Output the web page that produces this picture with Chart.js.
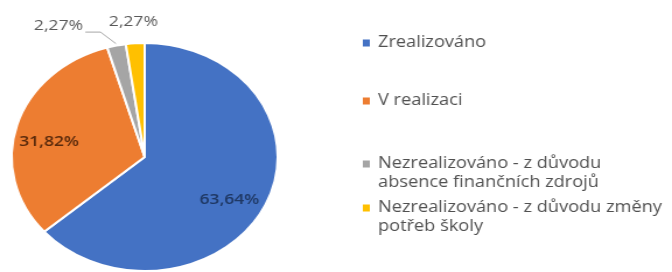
<!DOCTYPE html>
<html><head><meta charset="utf-8">
<script src="https://cdn.jsdelivr.net/npm/chart.js@4"></script>
<style>
html,body{margin:0;padding:0;background:#fff;overflow:hidden;width:672px;height:272px;}
#wrap{position:absolute;left:0;top:0;width:576px;height:272px;transform:scaleX(1.16667);transform-origin:0 0;}
</style></head><body>
<div id="wrap"><canvas id="c"></canvas></div>
<script>
// ---- data ----
const categories = [
  ['Zrealizováno'],
  ['V realizaci'],
  ['Nezrealizováno - z důvodu', 'absence finančních zdrojů'],
  ['Nezrealizováno - z důvodu změny', 'potřeb školy']
];
const shares = [63.64, 31.82, 2.27, 2.27];

// ---- styles ----
const sliceColors = ['#4472C4', '#ED7D31', '#A5A5A5', '#FFC000'];
const labelColors = ['#1F3864', '#5A2A0C', '#595959', '#595959'];
const FONT = "'Open Sans', sans-serif";

function fmt(v) { return v.toFixed(2).replace('.', ',') + '%'; }

const sliceLabels = {
  id: 'sliceLabels',
  afterDatasetsDraw(chart, args, opts) {
    const ctx = chart.ctx;
    const meta = chart.getDatasetMeta(0);
    ctx.save();
    ctx.textBaseline = 'middle';
    meta.data.forEach((arc, i) => {
      const p = arc.getProps(['x', 'y', 'startAngle', 'endAngle', 'outerRadius'], true);
      const mid = (p.startAngle + p.endAngle) / 2;
      const text = fmt(shares[i]);
      ctx.fillStyle = labelColors[i];
      if (opts.inside[i] != null) {
        ctx.font = '600 15px ' + FONT;
        const a = mid + opts.angleShift[i] * Math.PI / 180;
        const r = p.outerRadius * opts.inside[i];
        ctx.textAlign = 'center';
        ctx.fillText(text, p.x + Math.cos(a) * r, p.y + Math.sin(a) * r);
      } else {
        ctx.font = '15px ' + FONT;
        const r = p.outerRadius + opts.outsideGap;
        let lx = p.x + Math.cos(mid) * r;
        let ly = p.y + Math.sin(mid) * r;
        const sh = opts.shift[i];
        if (sh) {
          lx += sh[0]; ly += sh[1];
          const w = ctx.measureText(text).width;
          const ax = p.x + Math.cos(mid) * (p.outerRadius + 2);
          const ay = p.y + Math.sin(mid) * (p.outerRadius + 2);
          ctx.strokeStyle = '#A6A6A6';
          ctx.lineWidth = 1;
          ctx.beginPath();
          ctx.moveTo(lx + w / 2 + 2, ly + 6);
          ctx.lineTo(lx + w / 2 + 15, ly + 6);
          ctx.lineTo(ax, ay);
          ctx.stroke();
        }
        ctx.textAlign = 'center';
        ctx.fillText(text, lx, ly);
      }
    });
    ctx.restore();
  }
};

const sideLegend = {
  id: 'sideLegend',
  afterDraw(chart, args, opts) {
    const ctx = chart.ctx;
    ctx.save();
    ctx.font = opts.fontSize + 'px ' + FONT;
    ctx.textBaseline = 'middle';
    ctx.textAlign = 'left';
    categories.forEach((lines, i) => {
      const y0 = opts.tops[i];
      ctx.fillStyle = sliceColors[i];
      ctx.fillRect(opts.boxX, y0 - 3.5, 6, 7);
      ctx.fillStyle = '#505050';
      lines.forEach((ln, j) => ctx.fillText(ln, opts.textX, y0 + j * opts.lineHeight));
    });
    ctx.restore();
  }
};

new Chart(document.getElementById('c'), {
  type: 'pie',
  data: {
    labels: categories,
    datasets: [{
      data: shares,
      backgroundColor: sliceColors,
      borderColor: '#FFFFFF',
      borderWidth: 2
    }]
  },
  options: {
    responsive: true,
    maintainAspectRatio: false,
    animation: false,
    layout: { padding: { left: 9, top: 42, right: 337, bottom: 0 } },
    plugins: {
      legend: { display: false },
      tooltip: { enabled: false },
      sliceLabels: {
        inside: [0.74, 0.73, null, null],
        angleShift: [6, -6, 0, 0],
        outsideGap: 22,
        shift: [null, null, [-45, 2], null]
      },
      sideLegend: {
        tops: [43, 101, 164, 208],
        lineHeight: 19,
        boxX: 311,
        textX: 324,
        fontSize: 15.6
      }
    }
  },
  plugins: [sliceLabels, sideLegend]
});
</script>
</body></html>
